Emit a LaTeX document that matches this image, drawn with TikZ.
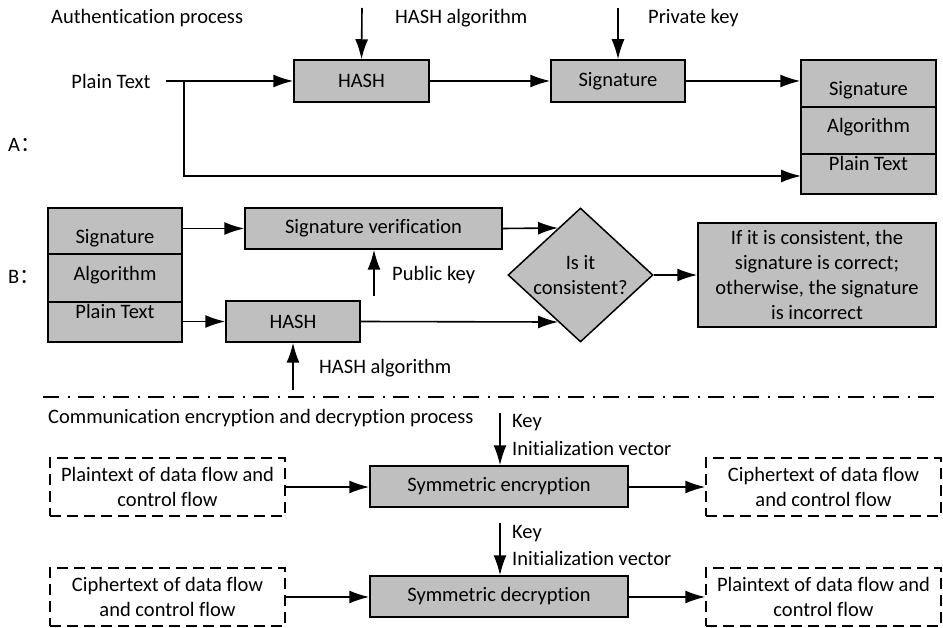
\documentclass[tikz,border=0pt]{standalone}
\usepackage{fontspec}
\setmainfont{Carlito}[Ligatures=NoCommon]
\newfontfamily\cjk{Noto Sans CJK SC}
\usetikzlibrary{shapes.geometric,arrows.meta,calc}
\begin{document}
\begin{tikzpicture}[x=1pt,y=-1pt,
  font=\fontsize{20.5}{25}\selectfont,
  every node/.style={inner sep=0pt},
  graybox/.style={draw, line width=1.5pt, fill=black!25, minimum width=#1},
  dashbox/.style={draw, line width=1.5pt, dash pattern=on 11pt off 6pt, minimum width=235pt, minimum height=58pt, align=center},
  arr/.style={line width=1.6pt, -{Latex[length=20pt,width=13pt]}},
  txt/.style={anchor=west}]
\useasboundingbox (0,0) rectangle (943,628);

% ---------- A ----------
\node[txt] (titleA) at (51,18) {Authentication process};
\node[txt] (labA) at (8,145) {A{\cjk ：}};
\node (ptA) at (111,81) {Plain Text};
\node[graybox=135pt, minimum height=42pt] (hashA) at (361.5,81) {HASH};
\node[graybox=134pt, minimum height=42pt] (sigA) at (618,81) {Signature};
\node[graybox=135pt, minimum height=134pt] (stackA) at (868.5,127) {};
\draw[line width=1.5pt] (801,107) -- (936,107);
\draw[line width=1.5pt] (801,154) -- (936,154);
\node (s1A) at (868.5,90) {Signature};
\node (s2A) at (868.5,127) {Algorithm};
\node (s3A) at (868.5,163) {Plain Text};

\coordinate (hashAin) at (362,8);
\coordinate (privin) at (618,8);
\node[txt] (hashAlab) at (395,18) {HASH algorithm};
\node[txt] (privlab) at (648,18) {Private key};
\draw[arr] (hashAin) -- (hashA.north);
\draw[arr] (privin) -- (sigA.north);

\coordinate (ptAstart) at (166,81);
\coordinate (br) at (184,81);
\coordinate (ptAend) at (801,176);
\draw[arr] (ptAstart) -- (hashA.west);
\draw[arr] (hashA.east) -- (sigA.west);
\draw[arr] (sigA.east) -- (stackA.west |- sigA.east);
\draw[arr] (br) |- (ptAend);

% ---------- B ----------
\node[txt] (labB) at (8,277) {B{\cjk ：}};
\node[graybox=134pt, minimum height=134pt] (stackB) at (115,275) {};
\draw[line width=1.5pt] (48,254) -- (182,254);
\draw[line width=1.5pt] (48,302) -- (182,302);
\node (s1B) at (115,238) {Signature};
\node (s2B) at (115,275) {Algorithm};
\node (s3B) at (115,311) {Plain Text};

\node[graybox=257pt, minimum height=41pt] (sigver) at (373.5,228.5) {Signature verification};
\node[graybox=134pt, minimum height=41pt] (hashB) at (293,321.5) {HASH};
\node[diamond, draw, line width=1.5pt, fill=black!25, minimum width=145pt, minimum height=134pt] (dia) at (580.5,275) {};
\node[align=center] (diatxt) at (580.5,275) {Is it\\consistent?};
\node[graybox=238pt, minimum height=104pt, align=center] (res) at (817,275)
  {If it is consistent, the\\signature is correct;\\otherwise, the signature\\is incorrect};

\coordinate (pubin) at (374,296);
\node[txt] (publab) at (392,275) {Public key};
\coordinate (hashBin) at (293,390);
\node[txt] (hashBlab) at (319,368) {HASH algorithm};

\draw[arr] (stackB.east |- sigver.west) -- (sigver.west);
\draw[arr] (stackB.east |- hashB.west) -- (hashB.west);
\draw[arr] (pubin) -- (sigver.south -| pubin);
\draw[arr] (hashBin) -- (hashB.south);
\draw[arr] (sigver.east) -- ($(dia.west)!0.694!(dia.north)$);
\draw[arr] (hashB.east) -- ($(dia.west)!0.694!(dia.south)$);
\draw[arr] (dia.east) -- (res.west);

% ---------- separator ----------
\draw[line width=1.6pt, dash pattern=on 16pt off 9pt on 2pt off 8pt] (43,397) -- (943,397);

% ---------- C ----------
\node[txt] (titleC) at (48,418) {Communication encryption and decryption process};

\node[dashbox] (encin) at (167.5,487) {Plaintext of data flow and\\control flow};
\node[graybox=258pt, minimum height=41pt] (enc) at (499,486.5) {Symmetric encryption};
\node[dashbox] (encout) at (823.5,487) {Ciphertext of data flow\\and control flow};
\coordinate (keyenc) at (500,413);
\node[txt] (k1) at (512,423) {Key};
\node[txt] (iv1) at (512,448) {Initialization vector};
\draw[arr] (keyenc) -- (enc.north -| keyenc);
\draw[arr] (encin.east) -- (enc.west |- encin.east);
\draw[arr] (enc.east |- encout.west) -- (encout.west);

\node[dashbox] (decin) at (167.5,597) {Ciphertext of data flow\\and control flow};
\node[graybox=258pt, minimum height=41pt] (dec) at (499,596.5) {Symmetric decryption};
\node[dashbox] (decout) at (823.5,597) {Plaintext of data flow and\\control flow};
\coordinate (keydec) at (500,523);
\node[txt] (k2) at (512,534) {Key};
\node[txt] (iv2) at (512,558) {Initialization vector};
\draw[arr] (keydec) -- (dec.north -| keydec);
\draw[arr] (decin.east) -- (dec.west |- decin.east);
\draw[arr] (dec.east |- decout.west) -- (decout.west);
\end{tikzpicture}
\end{document}
